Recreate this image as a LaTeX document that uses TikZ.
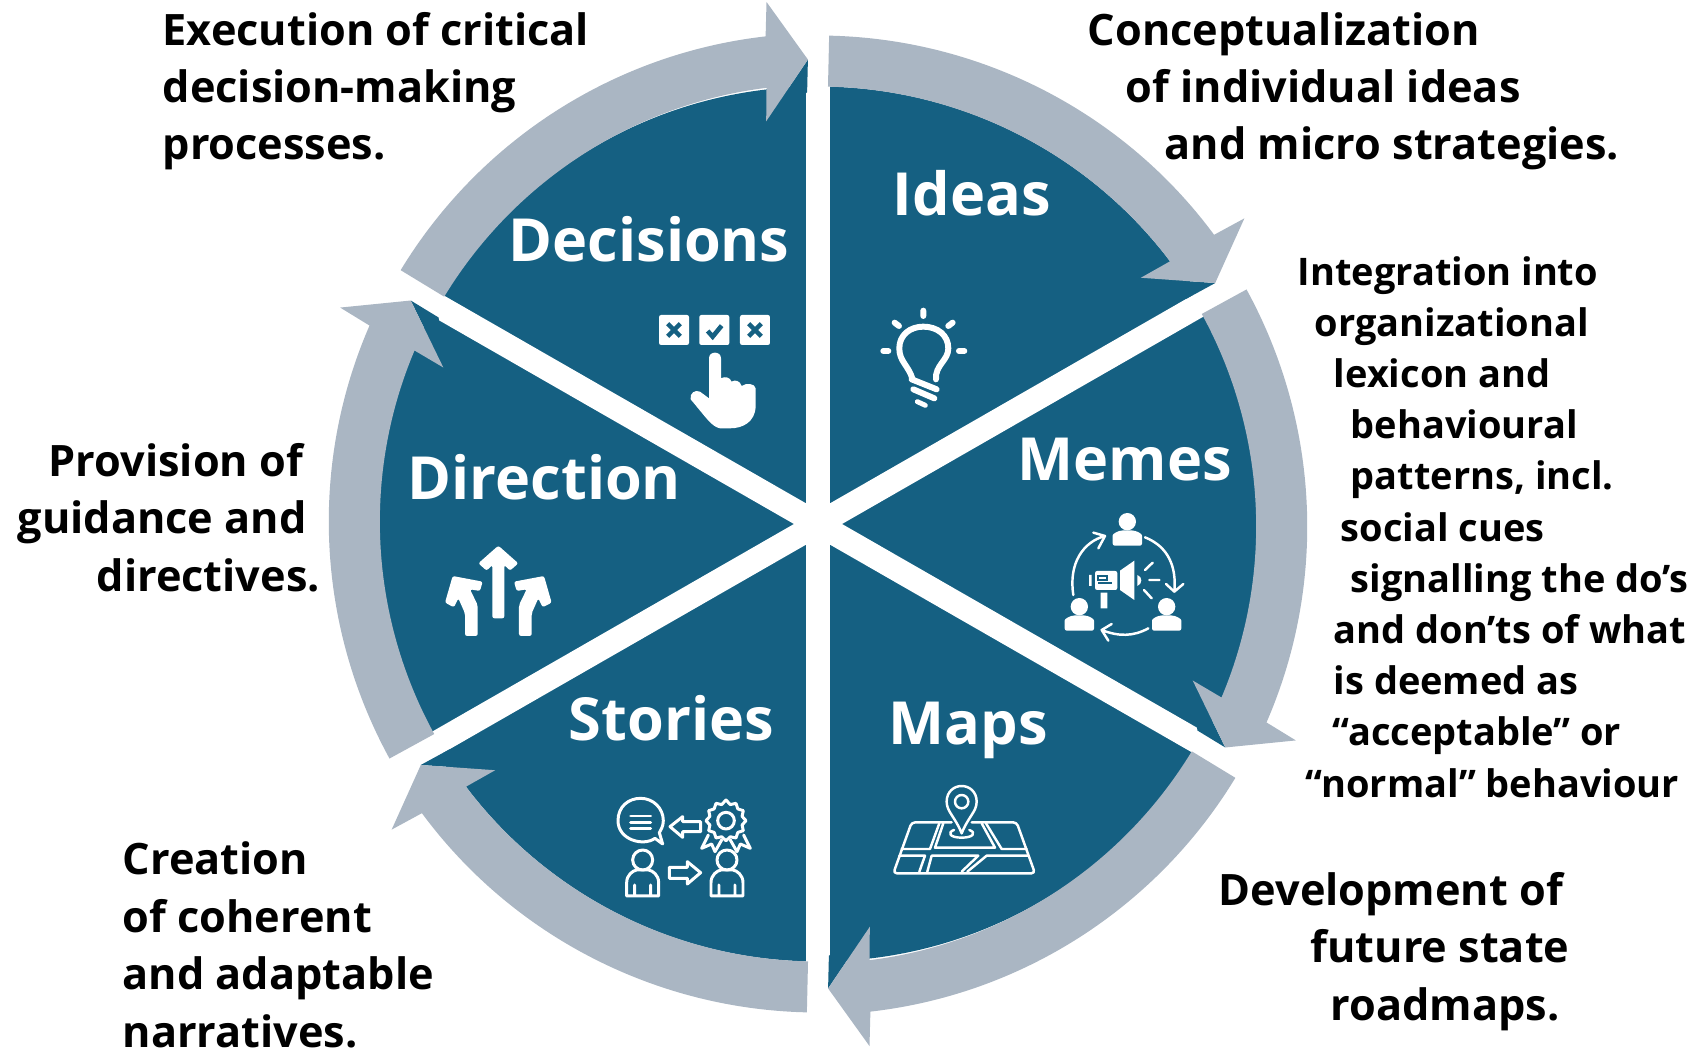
\documentclass[tikz,border=0pt]{standalone}
\usepackage{fontspec}
\setmainfont{Open Sans}
\definecolor{wheelblue}{HTML}{156082}
\definecolor{arrowgray}{HTML}{AAB6C3}

\begin{document}
\begin{tikzpicture}[x=0.01cm,y=-0.01cm,
            title/.style = {white,anchor=base west,inner sep=0pt,
            font=\fontsize{16.9}{20}\bfseries\selectfont},
            note/.style = {black,anchor=base west,inner sep=0pt,align=left,
            font=\fontsize{12.3}{16.35}\bfseries\selectfont},
            smallnote/.style = {black,anchor=base west,inner sep=0pt,align=left,
            font=\fontsize{10.8}{14.55}\bfseries\selectfont},
            gap/.style = {white,line width=6.8pt},
            iconfill/.style = {fill=white,rounded corners=0.6pt},
            iconline/.style = {draw=white,line cap=round,line join=round}]
        \useasboundingbox (0,0) rectangle (1706,1049);

        % Wheel
        \begin{scope}[shift={(818,524)},x=0.01005cm,y=0.01cm]
            \fill[wheelblue] (0,0) circle(437.5);
            \foreach \a in {90,30,-30}
                \draw[gap] (\a:500) -- (\a+180:500);
            % Arrows
            \foreach \a in {0,60,120,180,240,300} {
                \fill[wheelblue,rotate=\a] (37.5:404.5) -- (31.4:462.5) -- (31.6:430) -- cycle;
                \fill[arrowgray,rotate=\a] (88.7:437.5) arc[start angle=88.7,end angle=36.9,radius=437.5]
                    -- (37.5:404.5) -- (31.4:462.5) -- (35.8:522.5) -- (36.3:488.5)
                    arc[start angle=36.3,end angle=88.7,radius=488.5] -- cycle;
            }
        \end{scope}

        % Wheel titles
        \node[title] (ideas) at (892,216) {Ideas};
        \node[title] (decisions) at (508,262) {Decisions};
        \node[title] (memes) at (1017,481) {Memes};
        \node[title] (direction) at (407,499) {Direction};
        \node[title] (stories) at (568,740) {Stories};
        \node[title] (maps) at (888,744) {Maps};

        % Outer texts
        \node[note] (decisionsText) at (162,160) {Execution of critical\\decision-making\\processes.};
        \node[note] (ideasText) at (1087,160) {Conceptualization\\\hspace*{0.38cm}of individual ideas\\\hspace*{0.77cm}and micro strategies.};
        \node[note] (directionText) at (17,591) {\hspace*{0.31cm}Provision of\\guidance and\\\hspace*{0.79cm}directives.};
        \node[note] (storiesText) at (122,1047) {Creation\\of coherent\\and adaptable\\narratives.};
        \node[note] (mapsText) at (1218,1020) {Development of\\\hspace*{0.92cm}future state\\\hspace*{1.12cm}roadmaps.};
        \node[smallnote] (memesText) at (1297,797) {Integration into\\\hspace*{0.17cm}organizational\\\hspace*{0.36cm}lexicon and\\\hspace*{0.53cm}behavioural\\\hspace*{0.53cm}patterns, incl.\\\hspace*{0.43cm}social cues\\\hspace*{0.53cm}signalling the do’s\\\hspace*{0.36cm}and don’ts of what\\\hspace*{0.36cm}is deemed as\\\hspace*{0.35cm}“acceptable” or\\\hspace*{0.08cm}“normal” behaviour};

        % Decisions icon
        \begin{scope}[shift={(640,290)},scale=0.3333]
            \foreach \x in {57,178,300}
                \fill[iconfill] (\x,75) rectangle (\x+90,165);
            \foreach \x in {102,345}
                \draw[wheelblue,line width=1.3pt] (\x-19,101) -- (\x+19,139) (\x-19,139) -- (\x+19,101);
            \draw[wheelblue,line width=1.3pt] (203,123) -- (218,140) -- (245,107);
            \fill[white] (207,205) .. controls (207,194) and (215,188) .. (225,188)
                .. controls (235,188) and (243,194) .. (243,205) -- (243,265)
                .. controls (255,258) and (270,262) .. (275,275)
                .. controls (285,268) and (300,272) .. (305,288)
                .. controls (318,278) and (345,280) .. (347,295) -- (347,350)
                .. controls (345,395) and (310,415) .. (270,415) -- (240,415)
                .. controls (215,410) and (200,385) .. (152,328)
                .. controls (148,310) and (165,298) .. (180,305) -- (207,325) -- cycle;
        \end{scope}

        % Ideas icon
        \begin{scope}[shift={(640,290)},scale=0.3333]
            \draw[iconline,line width=1.7pt] (850,62) -- (850,78) (764,98) -- (777,108)
                (938,98) -- (925,108) (730,183) -- (745,183) (957,183) -- (973,183);
            \draw[iconline,line width=1.7pt] (818,268) .. controls (805,225) and (778,215) .. (778,175)
                .. controls (778,135) and (810,110) .. (850,110)
                .. controls (892,110) and (925,135) .. (925,175)
                .. controls (925,212) and (885,225) .. (888,268);
            \draw[iconline,line width=1.7pt] (815,268) -- (890,298) (820,298) -- (883,325);
            \draw[iconline,line width=1.4pt] (832,335) -- (856,346);
        \end{scope}

        % Memes icon
        \begin{scope}[shift={(1040,500)},scale=0.3333]
            \foreach \x/\y in {262/65,118/320,380/320} {
                \fill[white] (\x,\y) circle(26);
                \fill[iconfill] (\x-44,\y+72) -- (\x-44,\y+48) .. controls (\x-44,\y+36) and (\x-30,\y+30) .. (\x-18,\y+26)
                    -- (\x+18,\y+26) .. controls (\x+30,\y+30) and (\x+44,\y+36) .. (\x+44,\y+48) -- (\x+44,\y+72) -- cycle;
            }
            \draw[iconline,line width=0.7pt] (100,285) .. controls (85,190) and (130,125) .. (195,108)
                (160,98) -- (195,108) -- (175,145)
                (315,112) .. controls (385,140) and (410,200) .. (403,275)
                (378,252) -- (403,275) -- (430,252)
                (325,385) .. controls (280,410) and (235,410) .. (185,390)
                (215,372) -- (185,390) -- (205,422);
            \fill[white] (240,212) -- (283,182) -- (283,300) -- (240,270) -- cycle;
            \fill[iconfill] (165,213) rectangle (232,270);
            \fill[white] (182,278) rectangle (202,325) (147,225) rectangle (155,258);
            \draw[wheelblue,line width=0.5pt] (175,228) -- (200,228) -- (200,240) -- (175,240) -- cycle (175,250) -- (215,250);
            \fill[white] (292,225) .. controls (308,230) and (308,252) .. (292,258) -- cycle;
            \draw[iconline,line width=0.7pt] (315,210) -- (338,188) (328,240) -- (358,240) (312,270) -- (335,295);
        \end{scope}

        % Maps icon
        \begin{scope}[shift={(880,770)},scale=0.3333]
            \draw[iconline,line width=0.7pt] (245,190) .. controls (225,140) and (200,125) .. (200,95)
                .. controls (200,65) and (222,48) .. (245,48)
                .. controls (268,48) and (290,65) .. (290,95)
                .. controls (290,125) and (265,140) .. (245,190) -- cycle;
            \draw[iconline,line width=0.7pt] (245,95) circle(20);
            \draw[iconline,line width=0.7pt] (222,180) .. controls (200,188) and (210,203) .. (245,203)
                .. controls (280,203) and (290,188) .. (268,180);
            \draw[iconline,line width=0.7pt,rounded corners=1pt] (215,157) -- (95,157) -- (40,310) -- (465,310) -- (410,157) -- (275,157);
            \draw[iconline,line width=0.7pt] (178,160) -- (150,237) -- (65,237)
                (190,160) -- (165,233) -- (345,233) -- (305,160)
                (318,160) -- (365,237) -- (440,237)
                (58,257) -- (135,257) -- (118,305)
                (142,305) -- (155,257) -- (295,257) -- (245,305)
                (262,305) -- (320,257) -- (445,257);
        \end{scope}

        % Stories icon
        \begin{scope}[shift={(600,780)},scale=0.3333]
            \draw[iconline,line width=0.85pt] (165,175) .. controls (130,200) and (54,180) .. (54,122)
                .. controls (54,80) and (85,55) .. (122,55)
                .. controls (160,55) and (190,85) .. (190,122)
                .. controls (190,140) and (182,150) .. (178,158)
                -- (188,192) -- cycle;
            \draw[iconline,line width=0.85pt] (92,108) -- (152,108) (92,127) -- (152,127) (92,146) -- (152,146);
            \draw[iconline,line width=0.85pt] (210,140) -- (248,110) -- (248,125) -- (302,125)
                -- (302,155) -- (248,155) -- (248,172) -- cycle;
            \draw[iconline,line width=0.85pt] (208,262) -- (262,262) -- (262,245) -- (302,278)
                -- (262,312) -- (262,295) -- (208,295) -- cycle;
            \draw[iconline,line width=0.85pt] (378,122) circle(25);
            \draw[iconline,line width=0.85pt] (378,60) \foreach \a in {15,30,...,345}
                { -- ({378+(55+5*cos(12*\a))*sin(\a)},{122-(55+5*cos(12*\a))*cos(\a)}) } -- cycle;
            \draw[iconline,line width=0.85pt] (325,165) -- (305,205) -- (335,192) -- (345,215) -- (365,180)
                (431,165) -- (451,205) -- (421,192) -- (411,215) -- (391,180);
            \foreach \x in {128,381} {
                \draw[iconline,line width=0.85pt] (\x,240) circle(30);
                \draw[iconline,line width=0.85pt] (\x-48,348) -- (\x-48,308) .. controls (\x-48,285) and (\x-30,272) .. (\x-18,270)
                    -- (\x+18,270) .. controls (\x+30,272) and (\x+48,285) .. (\x+48,308) -- (\x+48,348) -- cycle
                    (\x-24,348) -- (\x-24,315) (\x+24,348) -- (\x+24,315);
            }
        \end{scope}

        % Direction icon
        \begin{scope}[shift={(430,530)},scale=0.3333]
            \fill[iconfill] (187,265) -- (187,105) -- (170,122) -- (145,100) -- (205,47) -- (265,100)
                -- (240,122) -- (223,105) -- (223,265) -- cycle;
            \fill[iconfill] (105,318) -- (105,250) -- (85,205) -- (72,232) -- (45,218) -- (68,138) -- (158,155)
                -- (150,183) -- (120,178) -- (143,225) -- (143,318) -- cycle;
            \fill[iconfill] (305,318) -- (305,250) -- (325,205) -- (338,232) -- (365,218) -- (342,138) -- (252,155)
                -- (260,183) -- (290,178) -- (267,225) -- (267,318) -- cycle;
        \end{scope}
    \end{tikzpicture}
\end{document}
